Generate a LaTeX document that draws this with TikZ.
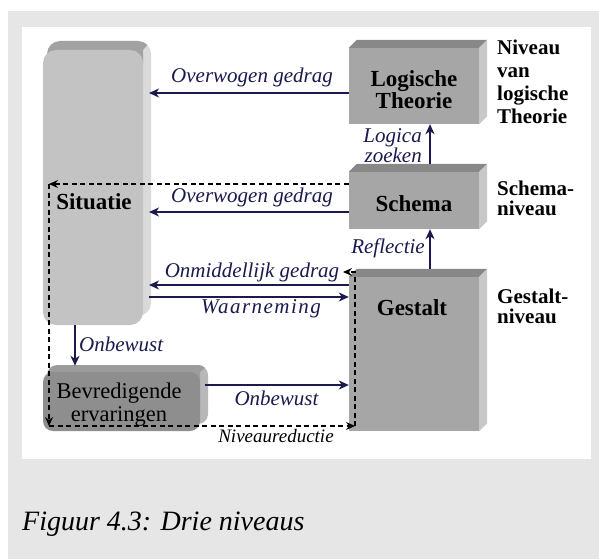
\documentclass[tikz,border=0pt]{standalone}
\usepackage{fontspec}
\setmainfont{Liberation Serif}
\usetikzlibrary{arrows.meta}
\definecolor{pagebg}{HTML}{E6E6E6}
\definecolor{navy}{HTML}{1A1A4E}
\definecolor{boxfront}{HTML}{A6A6A6}
\definecolor{boxtop}{HTML}{888888}
\definecolor{boxside}{HTML}{C8C8C8}
\definecolor{sitfront}{HTML}{C3C3C3}
\definecolor{sittop}{HTML}{A2A2A2}
\definecolor{sitside}{HTML}{DADADA}
\definecolor{bevfront}{HTML}{8E8E8E}
\definecolor{bevtop}{HTML}{9C9C9C}
\definecolor{bevside}{HTML}{B8B8B8}
\tikzset{
  boxface/.style={rectangle, fill=boxfront, inner sep=0pt, minimum width=130pt},
  boxlbl/.style={font=\bfseries\fontsize{23}{22}\selectfont, inner sep=0pt, align=center},
  sidelbl/.style={font=\bfseries\fontsize{21}{23}\selectfont, inner sep=0pt, align=left, anchor=north west},
  edgelbl/.style={font=\itshape\fontsize{21}{17}\selectfont, text=navy, inner sep=0pt, anchor=base},
  arr/.style={draw=navy, line width=1.4pt, -{Stealth[length=10pt,width=9pt,inset=3pt]}},
  darr/.style={draw=black, line width=1.1pt, dash pattern=on 5pt off 3.5pt, -{Stealth[length=9pt,width=8pt,inset=3pt]}},
}
\newcommand\mkboxthree[1]{%
  \fill[boxtop] (#1.north west) -- ++(8,-8) -- ([shift={(8,-8)}]#1.north east) -- (#1.north east) -- cycle;
  \fill[boxside] (#1.north east) -- ++(8,-8) -- ([shift={(8,-8)}]#1.south east) -- (#1.south east) -- cycle;}
\begin{document}
\begin{tikzpicture}[x=1pt,y=-1pt]
\useasboundingbox (0,0) rectangle (599,559);
\fill[white] (0,0) rectangle (599,559);
\fill[pagebg] (8,11) rectangle (599,559);
\fill[white] (22,27) rectangle (591,459);

% Situatie column (3D rounded)
\fill[sitside, rounded corners=13pt] (51,41) rectangle (151,316);
\begin{scope}
  \clip (0,0) -- (187,0) -- (143,50) -- (143,64) -- (0,64) -- cycle;
  \fill[sittop, rounded corners=13pt] (47,41) rectangle (151,316);
\end{scope}
\node[rectangle, fill=sitfront, rounded corners=13pt, inner sep=0pt,
      minimum width=100pt, minimum height=275pt] (sit) at (93,187.5) {};
\node[boxlbl, anchor=base] (sitl) at (94,209) {Situatie};

% Bevredigende ervaringen (3D rounded)
\fill[bevside, rounded corners=10pt] (51,365) rectangle (208,424);
\begin{scope}
  \clip (0,300) -- (282,300) -- (200,372) -- (200,384) -- (0,384) -- cycle;
  \fill[bevtop, rounded corners=10pt] (47,365) rectangle (208,424);
\end{scope}
\node[rectangle, fill=bevfront, rounded corners=10pt, inner sep=0pt,
      minimum width=157pt, minimum height=59pt] (bev) at (121.5,401.5) {};
\node[font=\fontsize{22.5}{22.5}\selectfont, inner sep=0pt, align=center, anchor=north]
  (bevl) at (119,383) {Bevredigende\\ervaringen};

% Level boxes
\node[boxface, minimum height=76pt] (lt) at (414,86) {};
\mkboxthree{lt}
\node[boxlbl, anchor=north] (ltl) at (414,70.5) {Logische\\Theorie};
\node[boxface, minimum height=57pt] (sch) at (414,200.5) {};
\mkboxthree{sch}
\node[boxlbl, anchor=base] (schl) at (414,211) {Schema};
\node[boxface, minimum height=154pt] (ges) at (414,354) {};
\mkboxthree{ges}
\node[boxlbl, anchor=base] (gesl) at (412,315) {Gestalt};

% Level labels on the right
\node[sidelbl] (n1) at (497,39.5) {Niveau\\van\\logische\\Theorie};
\node[sidelbl, font=\bfseries\fontsize{21}{20.5}\selectfont] (n2) at (497,180.5) {Schema-\\niveau};
\node[sidelbl, font=\bfseries\fontsize{21}{20.5}\selectfont] (n3) at (497,288.5) {Gestalt-\\niveau};

% helper coordinates
\coordinate (sitR) at (149,0);
\coordinate (dlx) at (49,0);

% Overwogen gedrag (top)
\coordinate (a1) at ([yshift=-7pt]lt.west);
\draw[arr] (a1) -- (a1 -| sitR);
\node[edgelbl] (l1) at (252,83) {Overwogen gedrag};

% Overwogen gedrag (schema)
\coordinate (a2) at ([yshift=-11.5pt]sch.west);
\draw[arr] (a2) -- (a2 -| sitR);
\node[edgelbl] (l2) at (252,202) {Overwogen gedrag};

% Onmiddellijk gedrag
\coordinate (a3) at ([yshift=69pt]ges.west);
\draw[arr] (a3) -- (a3 -| sitR);
\node[edgelbl] (l3) at (252,277) {Onmiddellijk gedrag};

% Waarneming
\coordinate (a4) at ([yshift=57pt]ges.west);
\draw[arr] (a4 -| sitR) -- (a4);
\node[edgelbl, font=\itshape\fontsize{21}{17}\selectfont\addfontfeature{LetterSpace=7}] (l4) at (261,313) {Waarneming};

% Logica zoeken
\coordinate (a5) at ([xshift=16pt,yshift=8pt]sch.north);
\draw[arr] (a5) -- (a5 |- lt.south);
\node[edgelbl, align=right, anchor=north east] (l5) at (422,128.5) {Logica\\zoeken};

% Reflectie
\coordinate (a6) at ([xshift=16pt,yshift=8pt]ges.north);
\draw[arr] (a6) -- (a6 |- sch.south);
\node[edgelbl] (l6) at (388,253) {Reflectie};

% Onbewust (down)
\coordinate (a7) at ([xshift=-18pt]sit.south);
\coordinate (bevtopc) at ([yshift=6pt]bev.north);
\draw[arr] (a7) -- (a7 |- bevtopc);
\node[edgelbl, anchor=base west] (l7) at (79,351) {Onbewust};

% Onbewust (right)
\coordinate (a8) at ([xshift=5pt,yshift=16.5pt]bev.east);
\draw[arr] (a8) -- (a8 -| ges.west);
\node[edgelbl] (l8) at (276.5,405) {Onbewust};

% Dashed loop (Niveaureductie)
\coordinate (d0) at ([yshift=16.5pt]sch.west);
\coordinate (dB) at (49,426);
\coordinate (dC) at (355,426);
\coordinate (dD) at (355,272);
\coordinate (dE) at (343,272);
\draw[darr] (d0) -- (d0 -| dlx);
\draw[darr] (d0 -| dlx) -- (dB);
\draw[darr] (dB) -- (dC);
\draw[darr] (dC) -- (dD) -- (dE);
\node[edgelbl, text=black, font=\itshape\fontsize{19}{19}\selectfont] (l9) at (276,442) {Niveaureductie};

% Caption
\node[font=\itshape\fontsize{28}{30}\selectfont, inner sep=0pt, anchor=base west] (cap) at (22,530) {Figuur 4.3: Drie niveaus};
\end{tikzpicture}
\end{document}
